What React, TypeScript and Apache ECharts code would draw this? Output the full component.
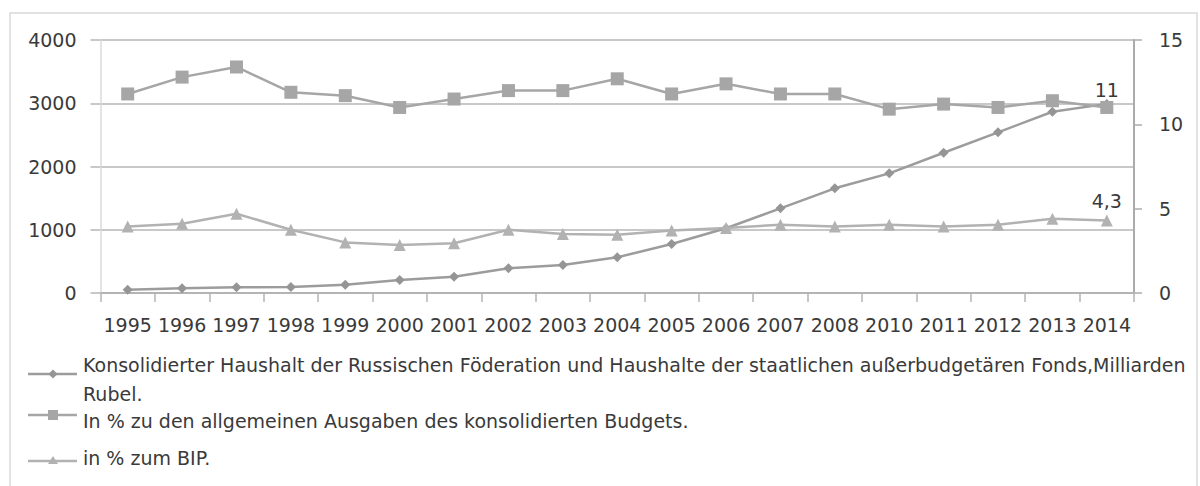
import React, { useEffect, useRef } from "react";
import * as echarts from "echarts";

// ---- data ----
const categories = [
  "1995", "1996", "1997", "1998", "1999", "2000", "2001", "2002", "2003", "2004",
  "2005", "2006", "2007", "2008", "2010", "2011", "2012", "2013", "2014",
];

// Milliarden Rubel (left axis)
const billionRubles = [
  50, 75, 90, 95, 130, 205, 258, 390, 443, 564,
  775, 1023, 1339, 1655, 1892, 2218, 2540, 2866, 2990,
];

// % of consolidated budget expenditures (right axis)
const pctBudget = [
  11.8, 12.8, 13.4, 11.9, 11.7, 11.0, 11.5, 12.0, 12.0, 12.7,
  11.8, 12.4, 11.8, 11.8, 10.9, 11.2, 11.0, 11.4, 11.0,
];

// % of GDP (right axis)
const pctGdp = [
  3.95, 4.1, 4.7, 3.75, 3.0, 2.85, 2.95, 3.75, 3.5, 3.45,
  3.7, 3.85, 4.05, 3.95, 4.05, 3.95, 4.05, 4.4, 4.3,
];

const seriesNames = [
  "Konsolidierter Haushalt der Russischen Föderation und Haushalte der staatlichen außerbudgetären Fonds,Milliarden Rubel.",
  "In % zu den allgemeinen Ausgaben des konsolidierten Budgets.",
  "in % zum BIP.",
];
const legendLines = [
  "Konsolidierter Haushalt der Russischen Föderation und Haushalte der staatlichen außerbudgetären Fonds,Milliarden\nRubel.",
  "In % zu den allgemeinen Ausgaben des konsolidierten Budgets.",
  "in % zum BIP.",
];

const leftAxis = { min: 0, max: 4000, interval: 1000 };
const rightAxis = { min: 0, max: 15, interval: 5 };

const FONT = "DejaVu Sans";
const TEXT = "#3a3a3a";
const C_DIAMOND = "#9c9c9c";
const C_SQUARE = "#a6a6a6";
const C_TRIANGLE = "#b2b2b2";

const deFmt = (p: any) => String(p.value).replace(".", ",");
const plain = (v: number) => String(v);

function lastLabeled(arr: number[], distance: number) {
  return arr.map((v, i) =>
    i === arr.length - 1
      ? {
          value: v,
          label: {
            show: true,
            position: "top",
            distance,
            formatter: deFmt,
            fontFamily: FONT,
            fontSize: 19,
            color: TEXT,
          },
        }
      : v
  );
}

export default function App() {
  const ref = useRef<HTMLDivElement>(null);

  useEffect(() => {
    const chart = echarts.init(ref.current!, null, { renderer: "svg" });

    const legendX1 = 28;
    const legendX2 = 77;
    const legendMid = 53;
    const textX = 83;
    const LFS = 19;

    const option: any = {
      animation: false,
      backgroundColor: "#ffffff",
      grid: { left: 100.5, right: 66, top: 40, bottom: 193, containLabel: false },
      xAxis: {
        type: "category",
        data: categories,
        boundaryGap: true,
        axisLine: { show: true, lineStyle: { color: "#b4b4b4", width: 2 } },
        axisTick: { show: true, length: 9, lineStyle: { color: "#b4b4b4", width: 1.5 } },
        axisLabel: {
          interval: 0,
          margin: 22,
          fontFamily: FONT,
          fontSize: 19,
          color: TEXT,
        },
        splitLine: { show: false },
      },
      yAxis: [
        {
          type: "value",
          position: "left",
          min: leftAxis.min,
          max: leftAxis.max,
          interval: leftAxis.interval,
          axisLine: { show: true, lineStyle: { color: "#dadada", width: 1.5 } },
          axisTick: { show: true, length: 10, lineStyle: { color: "#c8c8c8", width: 2 } },
          axisLabel: { margin: 24, fontFamily: FONT, fontSize: 19, color: TEXT, formatter: plain },
          splitLine: { show: true, lineStyle: { color: "#c8c8c8", width: 2 } },
        },
        {
          type: "value",
          position: "right",
          min: rightAxis.min,
          max: rightAxis.max,
          interval: rightAxis.interval,
          axisLine: { show: true, lineStyle: { color: "#ababab", width: 2 } },
          axisTick: { show: true, length: 8, lineStyle: { color: "#ababab", width: 1.5 } },
          axisLabel: { margin: 25, fontFamily: FONT, fontSize: 19, color: TEXT, formatter: plain },
          splitLine: { show: false },
        },
      ],
      series: [
        {
          name: seriesNames[0],
          type: "line",
          yAxisIndex: 0,
          data: billionRubles,
          symbol: "diamond",
          symbolSize: 10,
          lineStyle: { color: C_DIAMOND, width: 2.5 },
          itemStyle: { color: "#959595" },
          z: 2,
        },
        {
          name: seriesNames[1],
          type: "line",
          yAxisIndex: 1,
          data: lastLabeled(pctBudget, 1),
          symbol: "rect",
          symbolSize: 13,
          lineStyle: { color: C_SQUARE, width: 2.5 },
          itemStyle: { color: C_SQUARE },
          z: 3,
        },
        {
          name: seriesNames[2],
          type: "line",
          yAxisIndex: 1,
          data: lastLabeled(pctGdp, 4),
          symbol: "triangle",
          symbolSize: 12,
          lineStyle: { color: C_TRIANGLE, width: 2.5 },
          itemStyle: { color: C_TRIANGLE },
          z: 3,
        },
      ],
      graphic: [
        {
          type: "rect",
          shape: { x: 10, y: 13, width: 1187, height: 490 },
          style: { fill: "none", stroke: "#d9d9d9", lineWidth: 1.5 },
          z: -10,
          silent: true,
        },
        // legend item 1
        {
          type: "line",
          shape: { x1: legendX1, y1: 374, x2: legendX2, y2: 374 },
          style: { stroke: C_DIAMOND, lineWidth: 2.5 },
        },
        {
          type: "polygon",
          shape: {
            points: [
              [legendMid, 369.5],
              [legendMid + 4.5, 374],
              [legendMid, 378.5],
              [legendMid - 4.5, 374],
            ],
          },
          style: { fill: "#959595" },
        },
        {
          type: "text",
          x: textX,
          y: 379.5,
          style: {
            text: legendLines[0],
            fontFamily: FONT,
            fontSize: LFS,
            lineHeight: 29,
            fill: TEXT,
            verticalAlign: "middle",
            align: "left",
          },
        },
        // legend item 2
        {
          type: "line",
          shape: { x1: legendX1, y1: 415, x2: legendX2, y2: 415 },
          style: { stroke: C_SQUARE, lineWidth: 2.5 },
        },
        {
          type: "rect",
          shape: { x: legendMid - 5, y: 410, width: 10, height: 10 },
          style: { fill: C_SQUARE },
        },
        {
          type: "text",
          x: textX,
          y: 421,
          style: {
            text: legendLines[1],
            fontFamily: FONT,
            fontSize: LFS,
            fill: TEXT,
            verticalAlign: "middle",
            align: "left",
          },
        },
        // legend item 3
        {
          type: "line",
          shape: { x1: legendX1, y1: 461, x2: legendX2, y2: 461 },
          style: { stroke: C_TRIANGLE, lineWidth: 2.5 },
        },
        {
          type: "polygon",
          shape: {
            points: [
              [legendMid, 456],
              [legendMid + 5, 464],
              [legendMid - 5, 464],
            ],
          },
          style: { fill: C_TRIANGLE },
        },
        {
          type: "text",
          x: textX,
          y: 458,
          style: {
            text: legendLines[2],
            fontFamily: FONT,
            fontSize: LFS,
            fill: TEXT,
            verticalAlign: "middle",
            align: "left",
          },
        },
      ],
    };

    chart.setOption(option);
    return () => chart.dispose();
  }, []);

  return (
    <div
      ref={ref}
      style={{ position: "absolute", left: 0, top: 0, width: 1200, height: 486 }}
    />
  );
}
